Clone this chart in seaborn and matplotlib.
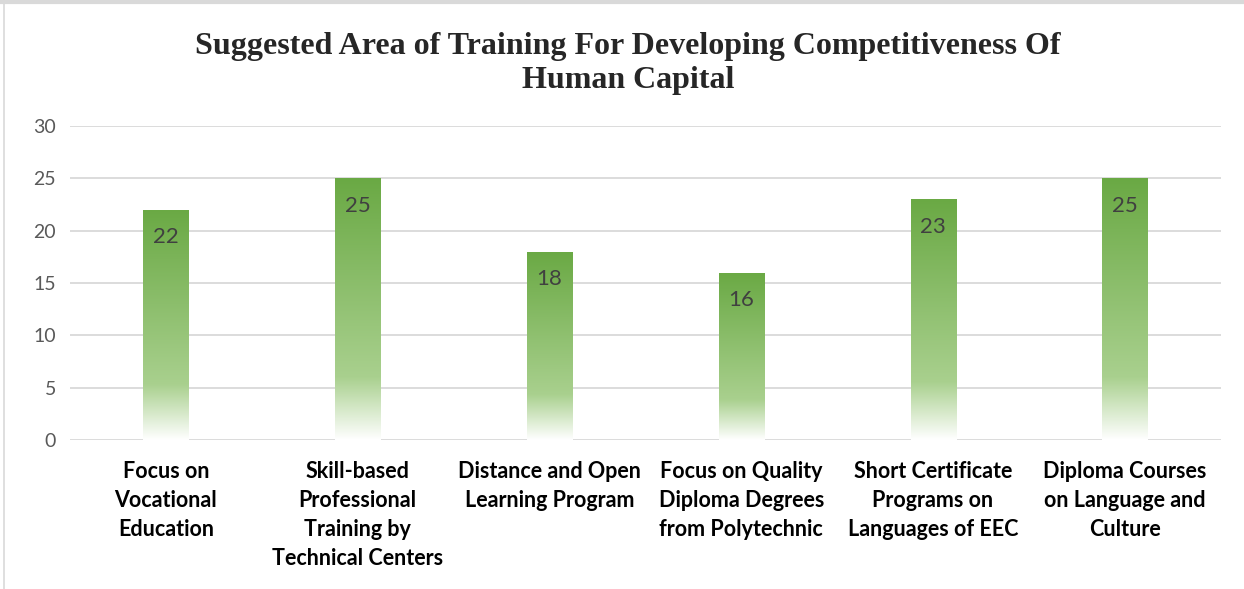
import numpy as np
import pandas as pd
import seaborn as sns
import matplotlib.pyplot as plt
from matplotlib.colors import LinearSegmentedColormap
from matplotlib.lines import Line2D

categories = [
    "Focus on\nVocational\nEducation",
    "Skill-based\nProfessional\nTraining by\nTechnical Centers",
    "Distance and Open\nLearning Program",
    "Focus on Quality\nDiploma Degrees\nfrom Polytechnic",
    "Short Certificate\nPrograms on\nLanguages of EEC",
    "Diploma Courses\non Language and\nCulture",
]
values = [22, 25, 18, 16, 23, 25]
yticks = [0, 5, 10, 15, 20, 25, 30]
title = "Suggested Area of Training For Developing Competitiveness Of\nHuman Capital"

df = pd.DataFrame({"area": categories, "count": values})

sns.set_style("white")
plt.rcParams["font.family"] = ["Lato", "DejaVu Sans"]

fig = plt.figure(figsize=(12.44, 5.89), dpi=100)
ax = fig.add_axes([0.0563, 0.253, 0.925, 0.533])

sns.barplot(data=df, x="area", y="count", width=0.235, color="#70AD47", ax=ax,
            zorder=3)

# gradient fill: green at top, fading to white at the base
grad = LinearSegmentedColormap.from_list(
    "g", [(0.0, "#ffffff"), (0.24, "#a9d08e"), (1.0, "#6aa944")])
img = np.linspace(0, 1, 256).reshape(-1, 1)
for bar in ax.patches:
    x0, w, h = bar.get_x(), bar.get_width(), bar.get_height()
    bar.set_facecolor("none")
    bar.set_edgecolor("none")
    im = ax.imshow(img, cmap=grad, origin="lower", aspect="auto",
                   extent=[x0, x0 + w, 0, h], zorder=3)
    im.set_clip_path(bar)

for i, v in enumerate(values):
    ax.text(i, v - 2.65, str(v), ha="center", va="center", fontsize=16,
            color="#404040", zorder=4)

ax.set_xlim(-0.5, len(values) - 0.5)
ax.set_ylim(0, 30)
ax.set_yticks(yticks)
ax.tick_params(axis="y", labelsize=14, labelcolor="#595959", length=0, pad=10)
ax.tick_params(axis="x", length=0, pad=15)
ax.set_xticks(range(len(categories)))
ax.set_xticklabels(categories, fontsize=15.5, fontweight="bold",
                   linespacing=1.47, va="top", color="#000000")
ax.set_xlabel("")
ax.set_ylabel("")
ax.grid(axis="y", color="#d9d9d9", linewidth=1.3, zorder=0)
ax.set_axisbelow(True)
for s in ax.spines.values():
    s.set_visible(False)

fig.text(0.505, 0.945, title, ha="center", va="top", fontsize=23,
         fontweight="bold", family="Liberation Serif", linespacing=1.2)

# outer frame (top and left edges)
fig.add_artist(Line2D([0, 1], [0.996, 0.996], transform=fig.transFigure,
                      color="#d9d9d9", linewidth=3))
fig.add_artist(Line2D([0.003, 0.003], [0, 1], transform=fig.transFigure,
                      color="#d9d9d9", linewidth=1.2))

fig.savefig("out.png", dpi=100)
